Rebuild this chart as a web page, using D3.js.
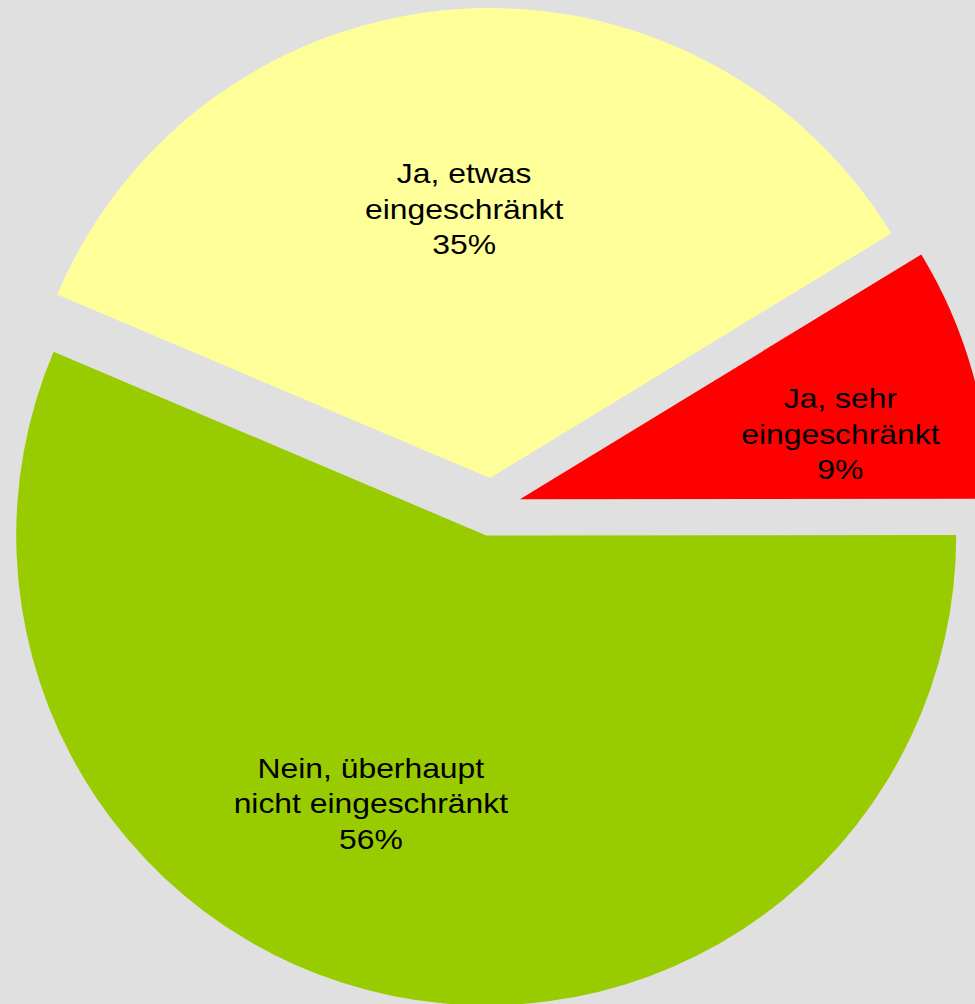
<!DOCTYPE html>
<html>
<head>
<meta charset="utf-8">
<script src="https://cdn.jsdelivr.net/npm/d3@7"></script>
<style>
  html, body { margin: 0; padding: 0; background: #e0e0e0; overflow: hidden; }
  svg { display: block; }
  .label { font-family: Arial, "Liberation Sans", sans-serif; font-size: 27px; fill: #000; }
</style>
</head>
<body>
<div id="chart"></div>
<script>
const categories = ["Ja, etwas eingeschränkt", "Ja, sehr eingeschränkt", "Nein, überhaupt nicht eingeschränkt"];
const labelLines = [
  ["Ja, etwas", "eingeschränkt"],
  ["Ja, sehr", "eingeschränkt"],
  ["Nein, überhaupt", "nicht eingeschränkt"],
];
const values = [34.9, 8.7, 56.4];
const colors = ["#ffff99", "#ff0000", "#99cc00"];

const width = 975;
const height = 1004;
const cx = 492, cy = 507;
const radius = 470;
const explode = 29;
// label placement per slice: distance from slice apex and angle nudge (degrees)
const labelPlace = [
  { r: 270, da: -1.3 },
  { r: 327, da: 4.2 },
  { r: 292, da: 11.8 },
];

const svg = d3.select("#chart").append("svg").attr("width", width).attr("height", height);
svg.append("rect").attr("width", width).attr("height", height).attr("fill", "#e0e0e0");

const data = categories.map((c, i) => ({ category: c, value: values[i], lines: labelLines[i], color: colors[i], i }));

const startAngle = (293.0 * Math.PI) / 180 - 2 * Math.PI;
const pie = d3.pie().sort(null).value((d) => d.value).startAngle(startAngle).endAngle(startAngle + 2 * Math.PI);
const arc = d3.arc().innerRadius(0).outerRadius(radius);
const arcs = pie(data);

const g = svg.append("g").attr("transform", `translate(${cx},${cy})`);

const slices = g.selectAll("g.slice").data(arcs).join("g").attr("class", "slice")
  .attr("transform", (d) => {
    const mid = (d.startAngle + d.endAngle) / 2;
    return `translate(${explode * Math.sin(mid)},${-explode * Math.cos(mid)})`;
  });

slices.append("path").attr("d", arc).attr("fill", (d) => d.data.color);

slices.each(function (d) {
  const p = labelPlace[d.data.i];
  const a = (d.startAngle + d.endAngle) / 2 + (p.da * Math.PI) / 180;
  const x = p.r * Math.sin(a);
  const y = -p.r * Math.cos(a);
  const lines = [...d.data.lines, `${Math.round(d.data.value)}%`];
  const t = d3.select(this).append("g").attr("transform", `translate(${x},${y}) scale(1.18,1)`);
  t.selectAll("text").data(lines).join("text")
    .attr("class", "label")
    .attr("text-anchor", "middle")
    .attr("dominant-baseline", "central")
    .attr("y", (_, k) => (k - 1) * 35.5)
    .text((s) => s);
});
</script>
</body>
</html>
